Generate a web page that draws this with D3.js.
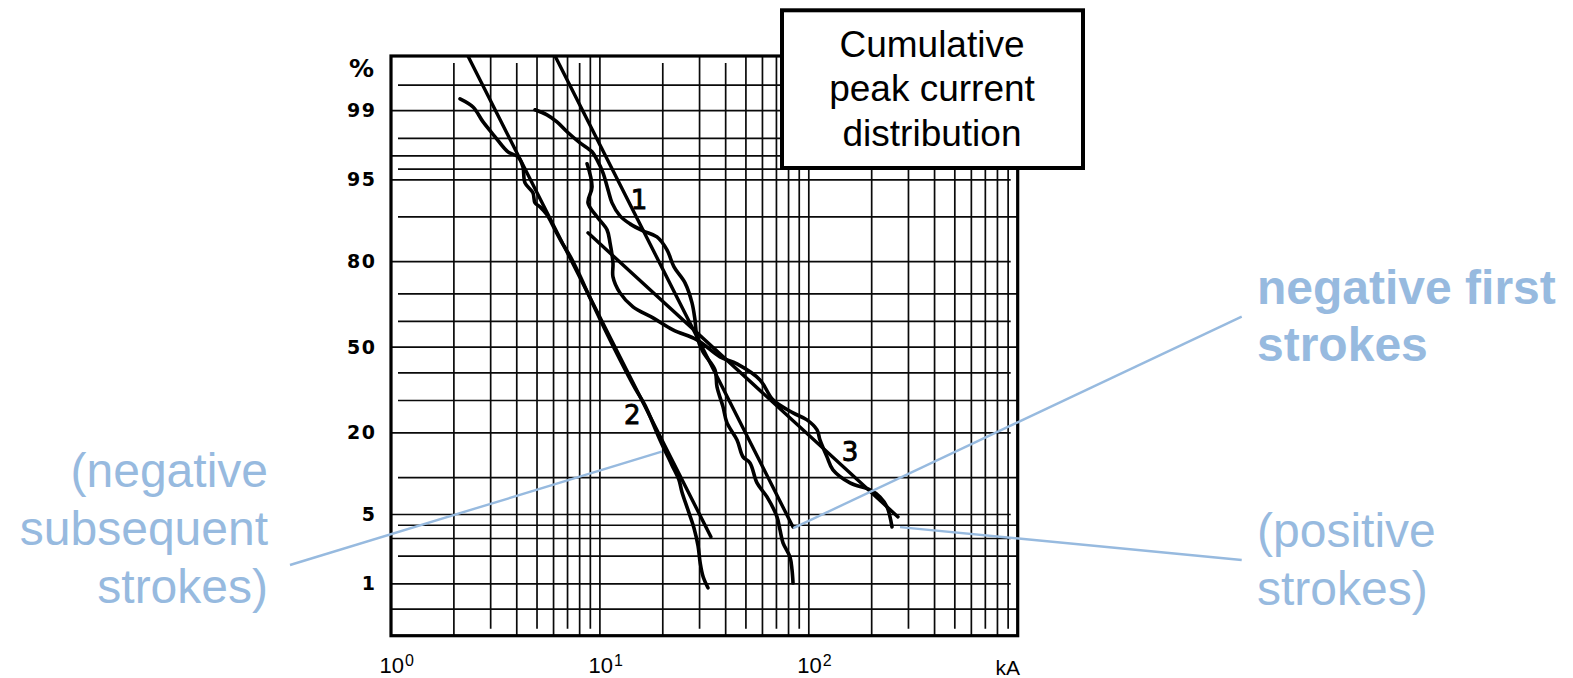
<!DOCTYPE html>
<html><head><meta charset="utf-8">
<script src="https://cdn.jsdelivr.net/npm/d3@7"></script>
<style>body{margin:0;background:#fff}</style>
</head><body>
<svg id="chart" width="1573" height="678"></svg>
<script>
// ---------------- DATA ----------------
const xTickValues = [1, 10, 100];
const xTickExponents = ["0", "1", "2"];
const xUnit = "kA";
const yTickValues = [99, 95, 80, 50, 20, 5, 1];
const yUnit = "%";
const xGridValues = [1,2,3,4,5,6,7,8,9,10,20,30,40,50,60,70,80,90,100,200,300,400,500,600,700,800,900,1000];
const yGridValues = [99.5,99,98,97,96,95,90,80,70,60,50,40,30,20,10,5,4,3,2,1,0.5];
const xDomain = [1, 1000];
const yDomain = [0.228, 99.79];

const titleLines = ["Cumulative", "peak current", "distribution"];

// straight fitted lines [kA, %]
const fitLine1 = [[6.10, 99.79], [84.0, 3.86]];
const fitLine2 = [[2.335, 99.79], [34.0, 3.11]];
const fitLine3 = [[8.77, 86.95], [267.3, 4.76]];

// measured distributions [kA, %]
const curve1 = [[4.89,99.02],[5.58,98.88],[6.23,98.66],[6.96,98.29],[8.03,97.77],[9.17,97.26],[9.69,96.72],[10.35,95.67],[10.94,93.90],[11.43,92.20],[12.48,90.16],[13.94,88.73],[16.08,87.36],[18.76,86.09],[20.95,83.06],[22.63,78.51],[25.55,73.64],[27.60,66.84],[28.52,60.58],[29.16,54.03],[31.16,48.16],[35.56,41.17],[36.36,34.81],[38.85,27.86],[40.59,22.83],[45.33,18.10],[48.42,14.04],[52.31,12.76],[56.49,9.10],[63.08,7.05],[70.43,4.76],[72.80,3.62],[75.25,2.72],[81.28,1.96],[83.11,1.43],[84.04,1.02]];
const curve2 = [[2.14,99.27],[2.47,99.09],[2.76,98.66],[3.15,98.07],[3.63,97.26],[4.06,96.93],[4.28,96.19],[4.38,94.69],[4.78,93.54],[4.89,92.20],[5.17,91.61],[5.58,90.34],[6.10,87.56],[6.59,84.75],[7.19,81.53],[7.86,77.04],[8.97,68.61],[10.6,56.75],[12.5,45.03],[14.7,34.45],[16.4,28.52],[19.4,18.10],[22.1,12.36],[23.9,9.60],[24.7,7.74],[26.4,5.48],[28.2,3.78],[29.5,2.54],[30.2,1.70],[31.2,1.20],[32.9,0.90]];
const curve3 = [[8.68,96.43],[9.17,94.25],[8.77,92.20],[9.69,90.00],[10.82,87.56],[11.18,84.75],[11.55,79.64],[11.55,75.53],[12.48,70.33],[14.40,65.41],[17.96,61.34],[22.38,56.75],[29.16,52.86],[37.58,46.20],[45.33,43.48],[58.41,37.39],[67.41,30.22],[84.04,25.91],[98.0,23.74],[109.5,20.81],[113.1,18.10],[122.2,14.04],[130.5,11.38],[157.5,9.10],[196.3,8.03],[219.2,7.05],[236.8,5.82],[250.2,3.86]];

const curveLabelTexts = ["1", "2", "3"];
const curveLabelPoints = [[15.4, 92.6], [14.3, 25.3], [157.5, 15.2]];

const annotationTexts = [["(negative", "subsequent", "strokes)"], ["negative first", "strokes"], ["(positive", "strokes)"]];
const annotationTargets = [[19.76, 15.23], [84.3, 3.76], [273.3, 3.84]];

// ---------------- LAYOUT / STYLE ----------------
const W = 1573, H = 678;
const plot = {left: 391, top: 56, right: 1017.7, bottom: 635.7};
const blue = "#97badf";
const annLayout = [
  {x: 268, anchor: "end", baselines: [487, 545, 603], weight: 400, lx: 290, ly: 565},
  {x: 1257, anchor: "start", baselines: [304, 361], weight: 700, lx: 1241.7, ly: 316.7},
  {x: 1257, anchor: "start", baselines: [546.5, 605], weight: 400, lx: 1241.7, ly: 560}
];

function probit(p) {
  const a=[-3.969683028665376e+01,2.209460984245205e+02,-2.759285104469687e+02,1.383577518672690e+02,-3.066479806614716e+01,2.506628277459239e+00];
  const b=[-5.447609879822406e+01,1.615858368580409e+02,-1.556989798598866e+02,6.680131188771972e+01,-1.328068155288572e+01];
  const c=[-7.784894002430293e-03,-3.223964580411365e-01,-2.400758277161838e+00,-2.549732539343734e+00,4.374664141464968e+00,2.938163982698783e+00];
  const d=[7.784695709041462e-03,3.224671290700398e-01,2.445134137142996e+00,3.754408661907416e+00];
  const pl = 0.02425, ph = 1 - pl;
  let q, r;
  if (p < pl) { q = Math.sqrt(-2*Math.log(p)); return (((((c[0]*q+c[1])*q+c[2])*q+c[3])*q+c[4])*q+c[5])/((((d[0]*q+d[1])*q+d[2])*q+d[3])*q+1); }
  if (p > ph) { q = Math.sqrt(-2*Math.log(1-p)); return -(((((c[0]*q+c[1])*q+c[2])*q+c[3])*q+c[4])*q+c[5])/((((d[0]*q+d[1])*q+d[2])*q+d[3])*q+1); }
  q = p - 0.5; r = q*q;
  return (((((a[0]*r+a[1])*r+a[2])*r+a[3])*r+a[4])*r+a[5])*q/(((((b[0]*r+b[1])*r+b[2])*r+b[3])*r+b[4])*r+1);
}

const x = d3.scaleLog().domain(xDomain).range([plot.left, plot.right]);
const yz = d3.scaleLinear().domain(yDomain.map(p => probit(p/100))).range([plot.bottom, plot.top]);
const y = p => yz(probit(p/100));

const svg = d3.select("#chart");
svg.append("rect").attr("width", W).attr("height", H).attr("fill", "#fff");

// grid
const grid = svg.append("g").attr("stroke", "#0a0a0a").attr("stroke-width", 1.7);
const inset = 7;
xGridValues.forEach(v => {
  const k = Math.round(v / Math.pow(10, Math.floor(Math.log10(v) + 1e-9)));
  const topIn = [2,4,8].includes(k) ? inset : 0;
  const botIn = [3,5,7,9].includes(k) ? inset : 0;
  grid.append("line").attr("x1", x(v)).attr("x2", x(v))
    .attr("y1", plot.top + topIn).attr("y2", plot.bottom - botIn);
});
const leftInsetSet = [99.5,98,96,90,70,60,40,30,10,4,2];
const rightInsetSet = [99.5,95,80,60,40,20,5,3,1];
yGridValues.forEach(p => {
  grid.append("line")
    .attr("x1", plot.left + (leftInsetSet.includes(p) ? inset : 0))
    .attr("x2", plot.right - (rightInsetSet.includes(p) ? inset : 0))
    .attr("y1", y(p)).attr("y2", y(p));
});

// plot border
svg.append("rect").attr("x", plot.left).attr("y", plot.top)
  .attr("width", plot.right - plot.left).attr("height", plot.bottom - plot.top)
  .attr("fill", "none").attr("stroke", "#000").attr("stroke-width", 3.2);

// axes (labels only)
const yAxis = d3.axisLeft(yz)
  .tickValues(yTickValues.map(p => probit(p/100)))
  .tickFormat((d, i) => yTickValues[i])
  .tickSize(0).tickPadding(14.5);
const gy = svg.append("g").attr("transform", `translate(${plot.left},0)`).call(yAxis);
gy.select(".domain").remove();
gy.attr("font-family", "DejaVu Sans").attr("font-size", 19).attr("font-weight", "bold");
gy.selectAll(".tick text").attr("fill", "#000").attr("letter-spacing", 1.5);
svg.append("text").attr("x", 374).attr("y", 68).attr("dy", "0.36em")
  .attr("text-anchor", "end").attr("font-family", "DejaVu Sans").attr("font-weight", "bold")
  .attr("font-size", 25).text(yUnit);

const xAxis = d3.axisBottom(x).tickValues(xTickValues).tickSize(0).tickPadding(22).tickFormat(() => "");
const gx = svg.append("g").attr("transform", `translate(0,${plot.bottom})`).call(xAxis);
gx.select(".domain").remove();
gx.attr("font-family", "Liberation Sans").attr("font-size", 22);
gx.selectAll(".tick text").each(function(d, i) {
  const t = d3.select(this).attr("text-anchor", "start").attr("x", -12).attr("fill", "#000");
  t.text(null);
  t.append("tspan").text("10");
  t.append("tspan").attr("dx", 1).attr("dy", -7).attr("font-size", 16).text(xTickExponents[i]);
});
svg.append("text").attr("x", x(1000) - 10).attr("y", 675).attr("text-anchor", "middle")
  .attr("font-family", "Liberation Sans").attr("font-size", 21).text(xUnit);

// data lines
svg.append("clipPath").attr("id", "plotclip").append("rect")
  .attr("x", plot.left).attr("y", plot.top).attr("width", plot.right - plot.left).attr("height", plot.bottom - plot.top);
const dataG = svg.append("g").attr("clip-path", "url(#plotclip)");
const straight = d3.line().x(d => x(d[0])).y(d => y(d[1]));
const wiggly = d3.line().x(d => x(d[0])).y(d => y(d[1])).curve(d3.curveCatmullRom.alpha(0.5));
[fitLine1, fitLine2, fitLine3].forEach(L => {
  dataG.append("path").attr("d", straight(L)).attr("fill", "none").attr("stroke", "#000")
    .attr("stroke-width", 3.4).attr("stroke-linecap", "round");
});
[curve1, curve2, curve3].forEach(C => {
  dataG.append("path").attr("d", wiggly(C)).attr("fill", "none").attr("stroke", "#000")
    .attr("stroke-width", 3.6).attr("stroke-linejoin", "round").attr("stroke-linecap", "round");
});
curveLabelTexts.forEach((t, i) => {
  svg.append("text").attr("x", x(curveLabelPoints[i][0])).attr("y", y(curveLabelPoints[i][1]))
    .attr("dy", "0.36em").attr("text-anchor", "middle")
    .attr("font-family", "DejaVu Sans").attr("font-size", 26)
    .attr("stroke", "#000").attr("stroke-width", 0.9).text(t);
});

// annotations
annotationTexts.forEach((lines, i) => {
  const L = annLayout[i];
  const tgt = annotationTargets[i];
  svg.append("line").attr("x1", L.lx).attr("y1", L.ly).attr("x2", x(tgt[0])).attr("y2", y(tgt[1]))
    .attr("stroke", blue).attr("stroke-width", 2.4);
  const t = svg.append("text").attr("font-family", "Liberation Sans").attr("font-size", 48)
    .attr("font-weight", L.weight).attr("fill", blue).attr("text-anchor", L.anchor);
  lines.forEach((s, j) => t.append("tspan").attr("x", L.x).attr("y", L.baselines[j]).text(s));
});

// title box
svg.append("rect").attr("x", 782).attr("y", 10.3).attr("width", 301).attr("height", 157.7)
  .attr("fill", "#fff").attr("stroke", "#000").attr("stroke-width", 4);
const tt = svg.append("text").attr("font-family", "Liberation Sans").attr("font-size", 37)
  .attr("text-anchor", "middle").attr("fill", "#000");
[57, 101, 146].forEach((b, j) => tt.append("tspan").attr("x", 932).attr("y", b).text(titleLines[j]));
</script>
</body></html>
